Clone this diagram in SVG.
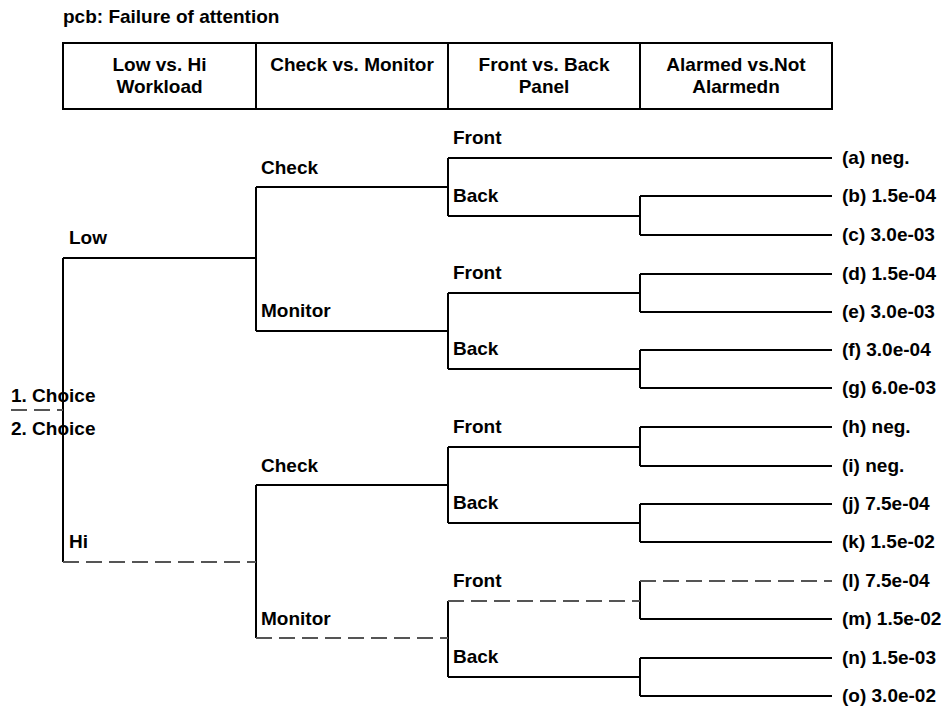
<svg xmlns="http://www.w3.org/2000/svg" width="945" height="706" viewBox="0 0 945 706">
<style>
text{font-family:"Liberation Sans",Arial,sans-serif;font-weight:bold;font-size:19px;fill:#000}
.c{text-anchor:middle}
.s{fill:none;stroke:#000;stroke-width:2}
.d{fill:none;stroke:#555;stroke-width:2;stroke-dasharray:16 7}
.box{fill:#fff;stroke:#000;stroke-width:2}
</style>
<rect width="945" height="706" fill="#fff"/>
<text x="63" y="23">pcb: Failure of attention</text>
<g id="header">
<rect class="box" x="63" y="43" width="769" height="66"/>
<path class="s" d="M256 43V109M448 43V109M640 43V109"/>
<text class="c" x="159.5" y="71">Low vs. Hi</text>
<text class="c" x="159.5" y="93">Workload</text>
<text class="c" x="352" y="71">Check vs. Monitor</text>
<text class="c" x="544" y="71">Front vs. Back</text>
<text class="c" x="544" y="93">Panel</text>
<text class="c" x="736" y="71">Alarmed vs.Not</text>
<text class="c" x="736" y="93">Alarmedn</text>
</g>
<g id="connectors">
<path class="s" d="M63 258V562M63 258H256M256 187V331M256 187H448M256 331H448"/>
<path class="s" d="M448 158V216M448 158H832M448 216H640M640 196V235M640 196H832M640 235H832"/>
<path class="s" d="M448 293V369M448 293H640M640 274V312M640 274H832M640 312H832M448 369H640M640 350V388M640 350H832M640 388H832"/>
<path class="s" d="M256 485V638M256 485H448M448 447V523M448 447H640M640 427V466M640 427H832M640 466H832M448 523H640M640 504V542M640 504H832M640 542H832"/>
<path class="s" d="M448 601V677M640 581V619M640 619H832M448 677H640M640 658V696M640 658H832M640 696H832"/>
<path class="d" d="M63 562H256M256 638H448M448 601H640M640 581H832M11 410H63"/>
</g>
<g id="root"><text x="11" y="402">1. Choice</text><text x="11" y="435">2. Choice</text></g>
<g id="low"><text x="69" y="244">Low</text></g>
<g id="hi"><text x="69" y="548">Hi</text></g>
<g id="low-check"><text x="261" y="174">Check</text></g>
<g id="low-monitor"><text x="261" y="317">Monitor</text></g>
<g id="hi-check"><text x="261" y="472">Check</text></g>
<g id="hi-monitor"><text x="261" y="625">Monitor</text></g>
<g id="lc-front"><text x="453" y="144">Front</text></g>
<g id="lc-back"><text x="453" y="202">Back</text></g>
<g id="lm-front"><text x="453" y="279">Front</text></g>
<g id="lm-back"><text x="453" y="355">Back</text></g>
<g id="hc-front"><text x="453" y="433">Front</text></g>
<g id="hc-back"><text x="453" y="509">Back</text></g>
<g id="hm-front"><text x="453" y="587">Front</text></g>
<g id="hm-back"><text x="453" y="663">Back</text></g>
<g id="leaf-a"><text x="842" y="164">(a) neg.</text></g>
<g id="leaf-b"><text x="842" y="202">(b) 1.5e-04</text></g>
<g id="leaf-c"><text x="842" y="241">(c) 3.0e-03</text></g>
<g id="leaf-d"><text x="842" y="280">(d) 1.5e-04</text></g>
<g id="leaf-e"><text x="842" y="318">(e) 3.0e-03</text></g>
<g id="leaf-f"><text x="842" y="356">(f) 3.0e-04</text></g>
<g id="leaf-g"><text x="842" y="394">(g) 6.0e-03</text></g>
<g id="leaf-h"><text x="842" y="433">(h) neg.</text></g>
<g id="leaf-i"><text x="842" y="472">(i) neg.</text></g>
<g id="leaf-j"><text x="842" y="510">(j) 7.5e-04</text></g>
<g id="leaf-k"><text x="842" y="548">(k) 1.5e-02</text></g>
<g id="leaf-l"><text x="842" y="587">(l) 7.5e-04</text></g>
<g id="leaf-m"><text x="842" y="625">(m) 1.5e-02</text></g>
<g id="leaf-n"><text x="842" y="664">(n) 1.5e-03</text></g>
<g id="leaf-o"><text x="842" y="702">(o) 3.0e-02</text></g>
</svg>
